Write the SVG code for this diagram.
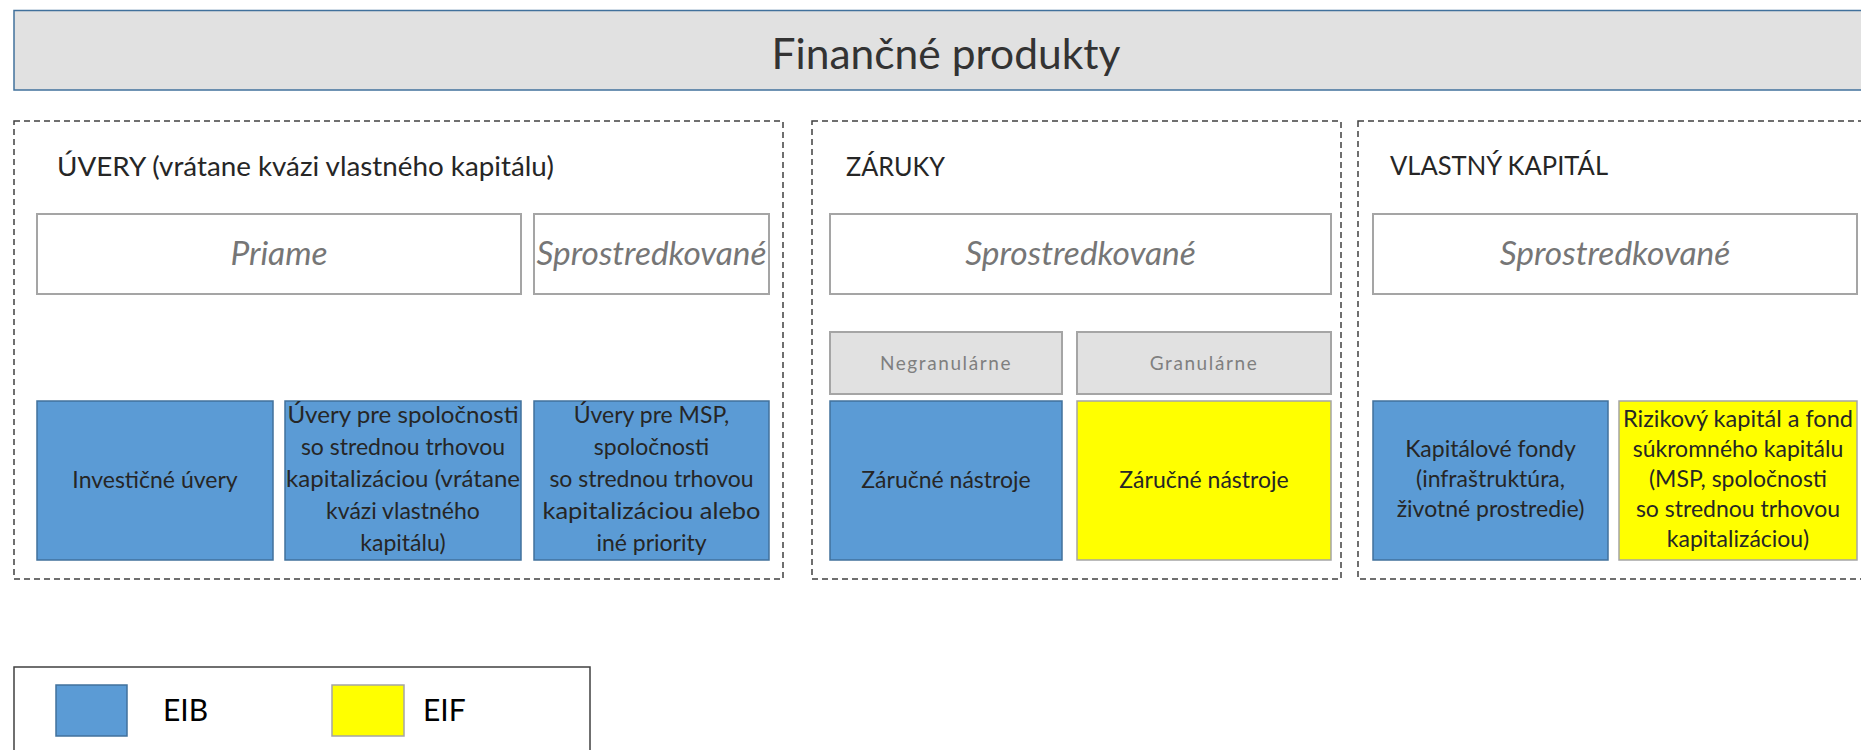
<svg xmlns="http://www.w3.org/2000/svg" width="1861" height="750" viewBox="0 0 1861 750">
<style>
text{font-family:Lato,"Liberation Sans",sans-serif;}
.group{fill:none;stroke:#404040;stroke-width:1.5;stroke-dasharray:6 4;}
.hdr{font-size:27.5px;fill:#262626;}
.white{fill:#ffffff;stroke:#a5a5a5;stroke-width:2;}
.ital{font-size:33.5px;font-style:italic;fill:#767676;text-anchor:middle;}
.grey{fill:#e1e1e1;stroke:#a5a5a5;stroke-width:2;}
.gtxt{font-size:19px;fill:#7f7f7f;text-anchor:middle;letter-spacing:1.6px;}
.blue{fill:#5b9bd5;stroke:#41719c;stroke-width:1.5;}
.yellow{fill:#ffff00;stroke:#a5a5a5;stroke-width:1.5;}
.body{font-size:23px;fill:#262626;text-anchor:middle;}
</style>
<rect width="1861" height="750" fill="#ffffff"/>

<g id="title">
<rect x="14" y="10.5" width="1860" height="79.5" fill="#e1e1e1" stroke="#41719c" stroke-width="1.5"/>
<text x="946" y="69" style="font-size:42.5px;fill:#333333;" text-anchor="middle">Finančné produkty</text>
</g>

<g id="uvery">
<rect class="group" x="14" y="121" width="769" height="458"/>
<text class="hdr" x="57" y="176" textLength="497" lengthAdjust="spacingAndGlyphs">ÚVERY (vrátane kvázi vlastného kapitálu)</text>
</g>
<g id="uvery-priame">
<rect class="white" x="37" y="214" width="484" height="80"/>
<text class="ital" x="279" y="265">Priame</text>
</g>
<g id="uvery-sprostredkovane">
<rect class="white" x="534" y="214" width="235" height="80"/>
<text class="ital" x="651.5" y="265" textLength="230" lengthAdjust="spacingAndGlyphs">Sprostredkované</text>
</g>
<g id="uvery-investicne">
<rect class="blue" x="37" y="401" width="236" height="159"/>
<text class="body" x="155" y="488">Investičné úvery</text>
</g>
<g id="uvery-stredne">
<rect class="blue" x="285" y="401" width="236" height="159"/>
<text class="body" x="403" y="423" textLength="231" lengthAdjust="spacingAndGlyphs">Úvery pre spoločnosti</text>
<text class="body" x="403" y="455">so strednou trhovou</text>
<text class="body" x="403" y="487" textLength="234" lengthAdjust="spacingAndGlyphs">kapitalizáciou (vrátane</text>
<text class="body" x="403" y="519">kvázi vlastného</text>
<text class="body" x="403" y="551">kapitálu)</text>
</g>
<g id="uvery-msp">
<rect class="blue" x="534" y="401" width="235" height="159"/>
<text class="body" x="651.5" y="423">Úvery pre MSP,</text>
<text class="body" x="651.5" y="455">spoločnosti</text>
<text class="body" x="651.5" y="487">so strednou trhovou</text>
<text class="body" x="651.5" y="519" textLength="218" lengthAdjust="spacingAndGlyphs">kapitalizáciou alebo</text>
<text class="body" x="651.5" y="551">iné priority</text>
</g>

<g id="zaruky">
<rect class="group" x="812" y="121" width="529" height="458"/>
<text class="hdr" x="846" y="176" textLength="99" lengthAdjust="spacingAndGlyphs">ZÁRUKY</text>
</g>
<g id="zaruky-sprostredkovane">
<rect class="white" x="830" y="214" width="501" height="80"/>
<text class="ital" x="1080.5" y="265">Sprostredkované</text>
</g>
<g id="zaruky-negranularne">
<rect class="grey" x="830" y="332" width="232" height="62"/>
<text class="gtxt" x="946" y="370">Negranulárne</text>
</g>
<g id="zaruky-granularne">
<rect class="grey" x="1077" y="332" width="254" height="62"/>
<text class="gtxt" x="1204" y="370">Granulárne</text>
</g>
<g id="zaruky-eib">
<rect class="blue" x="830" y="401" width="232" height="159"/>
<text class="body" x="946" y="488">Záručné nástroje</text>
</g>
<g id="zaruky-eif">
<rect class="yellow" x="1077" y="401" width="254" height="159"/>
<text class="body" x="1204" y="488">Záručné nástroje</text>
</g>

<g id="vlastny-kapital">
<rect class="group" x="1358" y="121" width="560" height="458"/>
<text class="hdr" x="1390" y="175" textLength="218" lengthAdjust="spacingAndGlyphs">VLASTNÝ KAPITÁL</text>
</g>
<g id="vk-sprostredkovane">
<rect class="white" x="1373" y="214" width="484" height="80"/>
<text class="ital" x="1615" y="265">Sprostredkované</text>
</g>
<g id="vk-fondy">
<rect class="blue" x="1373" y="401" width="235" height="159"/>
<text class="body" x="1490.5" y="457">Kapitálové fondy</text>
<text class="body" x="1490.5" y="487">(infraštruktúra,</text>
<text class="body" x="1490.5" y="517">životné prostredie)</text>
</g>
<g id="vk-rizikovy">
<rect class="yellow" x="1619" y="401" width="238" height="159"/>
<text class="body" x="1738" y="427" textLength="230" lengthAdjust="spacingAndGlyphs">Rizikový kapitál a fond</text>
<text class="body" x="1738" y="457">súkromného kapitálu</text>
<text class="body" x="1738" y="487">(MSP, spoločnosti</text>
<text class="body" x="1738" y="517">so strednou trhovou</text>
<text class="body" x="1738" y="547">kapitalizáciou)</text>
</g>

<g id="connectors"></g>

<g id="legend">
<rect x="14" y="667" width="576" height="100" fill="none" stroke="#404040" stroke-width="1.5"/>
<rect class="blue" x="56" y="685" width="71" height="51"/>
<text x="163" y="721" style="font-size:30px;fill:#000000;">EIB</text>
<rect class="yellow" x="332" y="685" width="72" height="51"/>
<text x="423" y="721" style="font-size:30px;fill:#000000;">EIF</text>
</g>
</svg>
